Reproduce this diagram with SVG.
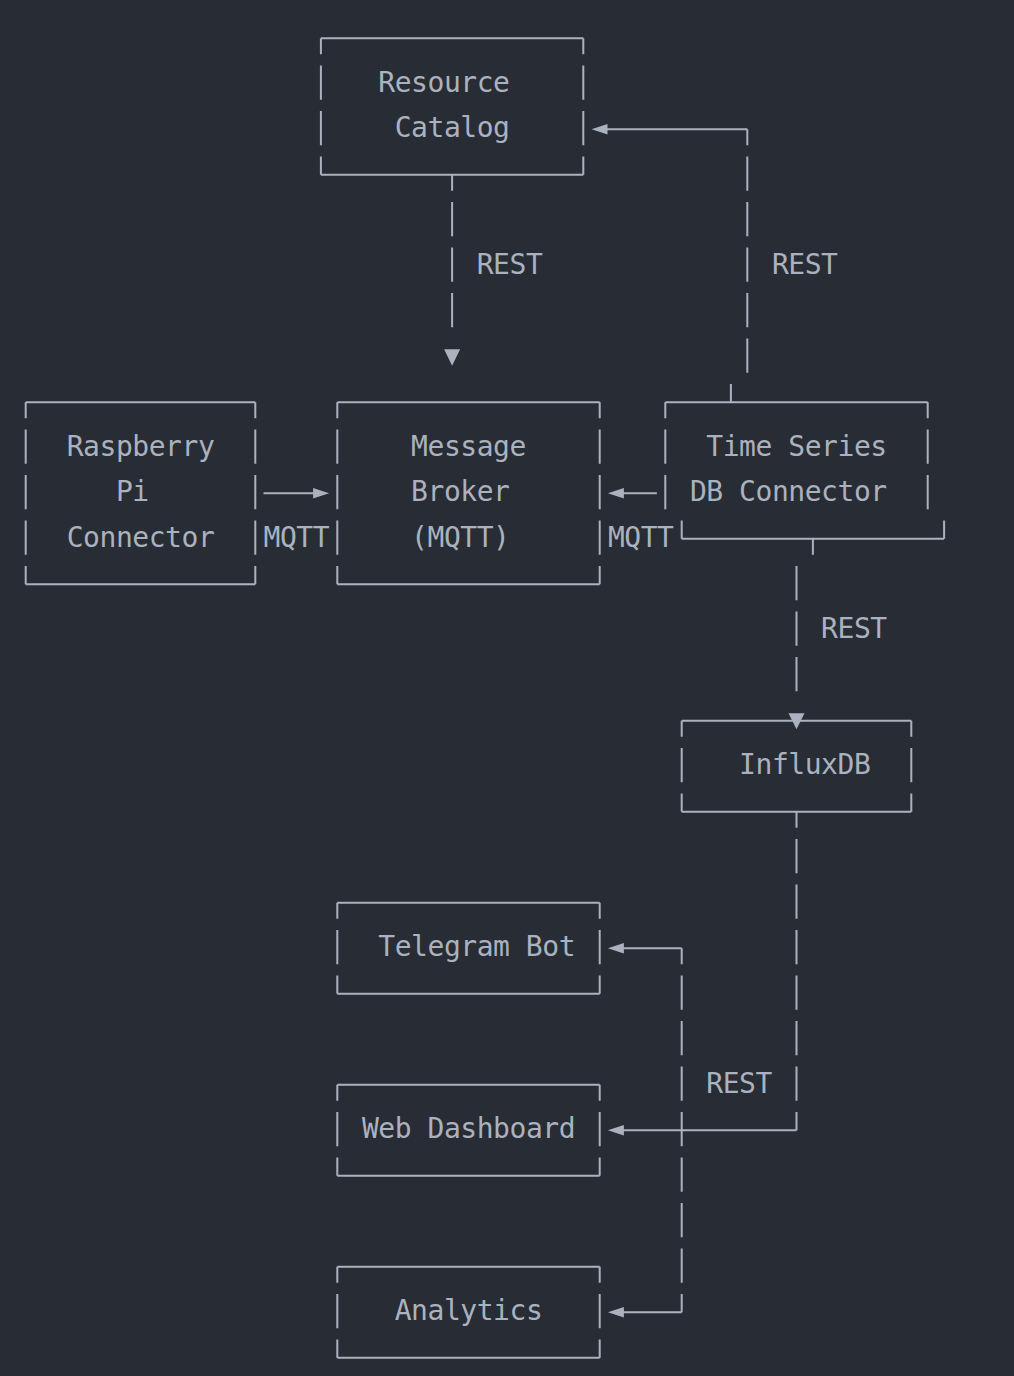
<svg xmlns="http://www.w3.org/2000/svg" width="1014" height="1376" viewBox="0 0 1014 1376">
<style>
.bg{fill:#282c34}
.ln{stroke:#abb2bf;stroke-width:2;fill:none}
.vc{stroke:#abb2bf;stroke-width:2;fill:none;stroke-dasharray:34.3 11.2;stroke-dashoffset:18.3}
.vt{stroke:#abb2bf;stroke-width:2;fill:none;stroke-dasharray:34.3 11.2}
.ah{fill:#abb2bf}
text{font-family:"DejaVu Sans Mono","Liberation Mono",monospace;font-size:28px;letter-spacing:-0.46px;fill:#abb2bf;text-anchor:middle}
</style>
<rect class="bg" x="0" y="0" width="1014" height="1376"/>

<g id="resource-catalog">
<path class="ln" d="M320.9 38.3H583.3M320.9 174.8H583.3"/>
<line class="vc" x1="320.9" y1="38.3" x2="320.9" y2="174.8"/>
<line class="vc" x1="583.3" y1="38.3" x2="583.3" y2="174.8"/>
<text x="443.9" y="91.8">Resource</text>
<text x="452.1" y="137.3">Catalog</text>
</g>

<g id="raspberry-pi-connector">
<path class="ln" d="M25.7 402.3H255.3M25.7 584.3H255.3"/>
<line class="vc" x1="25.7" y1="402.3" x2="25.7" y2="584.3"/>
<line class="vc" x1="255.3" y1="402.3" x2="255.3" y2="584.3"/>
<text x="140.5" y="455.8">Raspberry</text>
<text x="132.3" y="501.3">Pi</text>
<text x="140.5" y="546.8">Connector</text>
</g>

<g id="message-broker">
<path class="ln" d="M337.3 402.3H599.7M337.3 584.3H599.7"/>
<line class="vc" x1="337.3" y1="402.3" x2="337.3" y2="584.3"/>
<line class="vc" x1="599.7" y1="402.3" x2="599.7" y2="584.3"/>
<text x="468.5" y="455.8">Message</text>
<text x="460.3" y="501.3">Broker</text>
<text x="460.3" y="546.8">(MQTT)</text>
</g>

<g id="time-series-db-connector">
<path class="ln" d="M665.3 402.3H927.7M681.7 538.8H944.1M681.7 520.5V538.8M944.1 520.5V538.8"/>
<line class="vc" x1="665.3" y1="402.3" x2="665.3" y2="509.3"/>
<line class="vc" x1="927.7" y1="402.3" x2="927.7" y2="509.3"/>
<text x="796.5" y="455.8">Time Series</text>
<text x="788.3" y="501.3">DB Connector</text>
</g>

<g id="influxdb">
<path class="ln" d="M681.7 720.8H911.3M681.7 811.8H911.3"/>
<line class="vc" x1="681.7" y1="720.8" x2="681.7" y2="811.8"/>
<line class="vc" x1="911.3" y1="720.8" x2="911.3" y2="811.8"/>
<text x="804.7" y="774.3">InfluxDB</text>
</g>

<g id="telegram-bot">
<path class="ln" d="M337.3 902.8H599.7M337.3 993.8H599.7"/>
<line class="vc" x1="337.3" y1="902.8" x2="337.3" y2="993.8"/>
<line class="vc" x1="599.7" y1="902.8" x2="599.7" y2="993.8"/>
<text x="476.7" y="956.3">Telegram Bot</text>
</g>

<g id="web-dashboard">
<path class="ln" d="M337.3 1084.8H599.7M337.3 1175.8H599.7"/>
<line class="vc" x1="337.3" y1="1084.8" x2="337.3" y2="1175.8"/>
<line class="vc" x1="599.7" y1="1084.8" x2="599.7" y2="1175.8"/>
<text x="468.5" y="1138.3">Web Dashboard</text>
</g>

<g id="analytics">
<path class="ln" d="M337.3 1266.8H599.7M337.3 1357.8H599.7"/>
<line class="vc" x1="337.3" y1="1266.8" x2="337.3" y2="1357.8"/>
<line class="vc" x1="599.7" y1="1266.8" x2="599.7" y2="1357.8"/>
<text x="468.5" y="1320.3">Analytics</text>
</g>

<g id="connectors">
<!-- Resource Catalog -> Message Broker -->
<line class="vc" x1="452.1" y1="174.8" x2="452.1" y2="330"/>
<polygon class="ah" points="444.1,349.3 460.1,349.3 452.1,365.7"/>
<text x="509.5" y="273.8">REST</text>
<!-- Time Series -> Resource Catalog -->
<path class="ln" d="M730.9 384V402.3"/>
<line class="vc" x1="747.3" y1="129.3" x2="747.3" y2="372.8"/>
<path class="ln" d="M747.3 129.3H605"/>
<polygon class="ah" points="591.5,129.3 607.5,124 607.5,134.6"/>
<text x="804.7" y="273.8">REST</text>
<!-- Raspberry -> Broker -->
<path class="ln" d="M263.5 493.3H315"/>
<polygon class="ah" points="329.1,493.3 313.1,488 313.1,498.6"/>
<text x="296.3" y="546.8">MQTT</text>
<!-- Time Series -> Broker -->
<path class="ln" d="M656.9 493.3H622"/>
<polygon class="ah" points="607.9,493.3 623.9,488 623.9,498.6"/>
<text x="640.7" y="546.8">MQTT</text>
<!-- Time Series -> InfluxDB -->
<path class="ln" d="M812.9 538.8V554.8"/>
<line class="vt" x1="796.5" y1="566" x2="796.5" y2="691.3"/>
<polygon class="ah" points="788.5,713.3 804.5,713.3 796.5,729.3"/>
<text x="853.9" y="637.8">REST</text>
<!-- InfluxDB -> Web Dashboard -->
<line class="vc" x1="796.5" y1="811.8" x2="796.5" y2="1130.3"/>
<path class="ln" d="M796.5 1130.3H622"/>
<polygon class="ah" points="607.9,1130.3 623.9,1125 623.9,1135.6"/>
<text x="739.1" y="1092.8">REST</text>
<!-- to Telegram Bot and Analytics -->
<line class="vc" x1="681.7" y1="948.3" x2="681.7" y2="1312.3"/>
<path class="ln" d="M681.7 948.3H622M681.7 1312.3H622"/>
<polygon class="ah" points="607.9,948.3 623.9,943 623.9,953.6"/>
<polygon class="ah" points="607.9,1312.3 623.9,1307 623.9,1317.6"/>
</g>
</svg>
